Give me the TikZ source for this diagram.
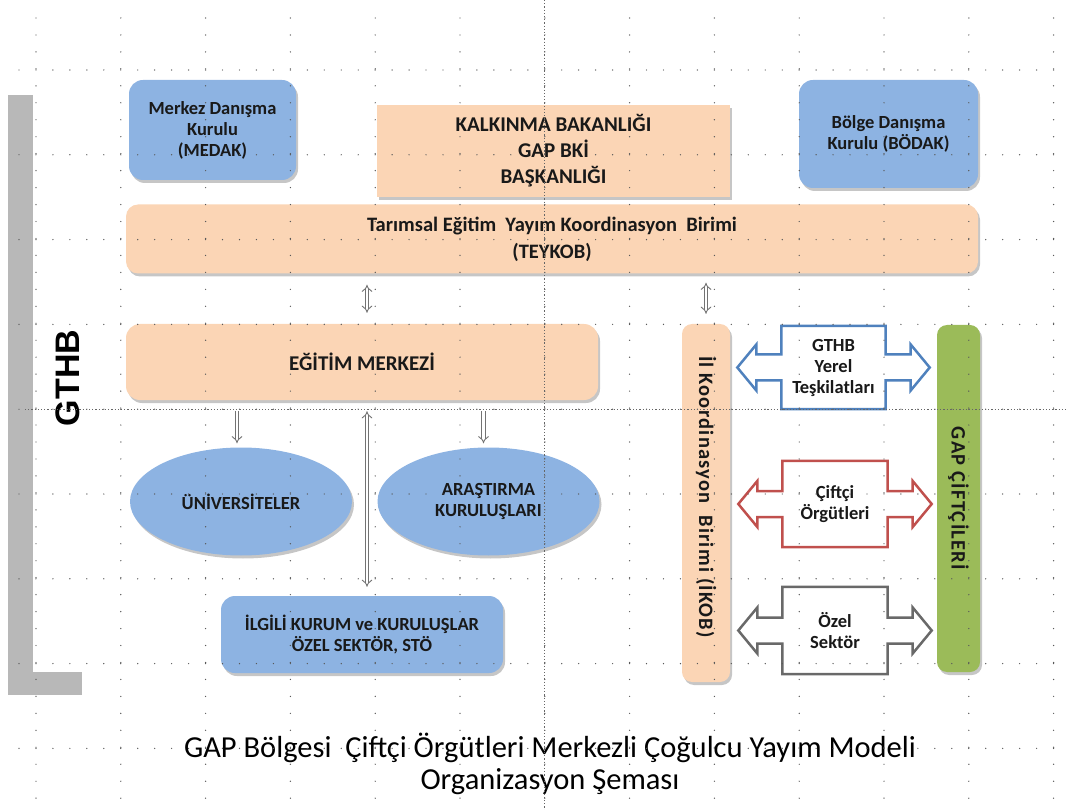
\documentclass[tikz,border=0pt]{standalone}
\usepackage{fontspec}
\setmainfont{Carlito}
\newfontfamily\headfont{Liberation Sans}
\usetikzlibrary{positioning,calc,shadows,backgrounds,arrows.meta,shapes.geometric}

\definecolor{boxblue}{RGB}{141,179,226}
\definecolor{boxpeach}{RGB}{251,213,181}
\definecolor{boxgreen}{RGB}{155,187,89}
\definecolor{lineblue}{RGB}{79,129,189}
\definecolor{linered}{RGB}{192,80,77}
\definecolor{linegray}{RGB}{105,105,105}

\tikzset{
  boxtext/.style={font=\bfseries\fontsize{18.5}{21}\selectfont, align=center, text=black!90},
  sidetext/.style={font=\bfseries\fontsize{20.5}{21}\selectfont\addfontfeature{LetterSpace=6}, text=black!90},
  orgbox/.style={boxtext, fill=#1, inner sep=0pt, rounded corners=14pt,
    drop shadow={shadow xshift=2pt, shadow yshift=-3pt, opacity=0.45}},
  orgoval/.style={orgbox=#1, shape=ellipse},
  dualline/.style={draw=black!55, line width=0.9pt, double=white, double distance=2.8pt},
  griddot/.style={fill=black!65}
}

% two-headed block arrow round a text box
\newcommand{\dualarrow}[2]{%
  \begin{scope}[on background layer]
  \draw[#2, line width=2.5pt, fill=white, line join=miter]
    (#1.north west) -- (#1.north east)
    -- ($(#1.east)+(0,-13)$) -- ++(25,0) -- ++(0,-10) -- ($(#1.east)+(44,0)$)
    -- ($(#1.east)+(25,23)$) -- ++(0,-10) -- ($(#1.east)+(0,13)$)
    -- (#1.south east) -- (#1.south west)
    -- ($(#1.west)+(0,13)$) -- ++(-25,0) -- ++(0,10) -- ($(#1.west)+(-44,0)$)
    -- ($(#1.west)+(-25,-23)$) -- ++(0,10) -- ($(#1.west)+(0,-13)$) -- cycle;
  \end{scope}}

\begin{document}
\begin{tikzpicture}[x=1pt,y=-1pt]
\useasboundingbox (0,0) rectangle (1066,810);

% grey frame shadow on the left
\fill[black!28] (8,95) rectangle (33,695);
\fill[black!28] (8,672) rectangle (82,695);

% top level
\node[orgbox=boxblue, minimum width=167pt, minimum height=100pt] (medak) at (212.5,130) {Merkez Danışma\\Kurulu\\(MEDAK)};
\node[orgbox=boxpeach, rounded corners=0pt, minimum width=353pt, minimum height=92pt,
      font=\bfseries\fontsize{21}{26}\selectfont] (gapbki) at (553.5,151) {KALKINMA BAKANLIĞI\\GAP BKİ\\BAŞKANLIĞI};
\node[orgbox=boxblue, minimum width=179pt, minimum height=108pt] (bodak) at (888.5,134) {Bölge Danışma\\Kurulu (BÖDAK)};
\node[orgbox=boxpeach, rounded corners=12pt, minimum width=852pt, minimum height=69pt,
      font=\bfseries\fontsize{20.5}{27}\selectfont] (teykob) at (552,239) {Tarımsal Eğitim~ Yayım Koordinasyon~ Birimi\\(TEYKOB)};

% second level
\node[orgbox=boxpeach, minimum width=472pt, minimum height=76pt,
      font=\bfseries\fontsize{21}{22}\selectfont] (egitim) at (362,362) {EĞİTİM MERKEZİ};
\node[orgbox=boxpeach, rounded corners=10pt, minimum width=48pt, minimum height=358pt] (ikob) at (706,503) {};
\node[sidetext, rotate=-90] at ([yshift=6pt]ikob.center) {İl Koordinasyon~ Birimi (İKOB)};
\node[orgbox=boxgreen, rounded corners=10pt, minimum width=43pt, minimum height=347pt] (ciftci) at (958.5,498.5) {};
\node[sidetext, rotate=-90] at (ciftci) {GAP ÇİFTÇİLERİ};

\node[font=\headfont\bfseries\fontsize{34}{34}\selectfont, rotate=90] (gthb) at (68,378) {GTHB};

% research and partners
\node[orgoval=boxblue, minimum width=222pt, minimum height=108pt] (univ) at (241,501.5) {ÜNİVERSİTELER};
\node[orgoval=boxblue, minimum width=222pt, minimum height=108pt] (research) at (488.5,501.5) {ARAŞTIRMA\\KURULUŞLARI};
\node[orgbox=boxblue, minimum width=282pt, minimum height=77pt] (ilgili) at (362,634.5) {İLGİLİ KURUM ve KURULUŞLAR\\ÖZEL SEKTÖR, STÖ};

% links between İKOB and the farmers
\node[boxtext, minimum width=104pt, minimum height=83pt, inner sep=0pt] (yerel) at (833.5,367.5) {GTHB\\Yerel\\Teşkilatları};
\node[boxtext, minimum width=105pt, minimum height=86pt, inner sep=0pt] (orgut) at (835,504) {Çiftçi\\Örgütleri};
\node[boxtext, minimum width=105pt, minimum height=87pt, inner sep=0pt] (ozel) at (835,630.5) {Özel\\Sektör};
\dualarrow{yerel}{lineblue}
\dualarrow{orgut}{linered}
\dualarrow{ozel}{linegray}

% connectors
\coordinate (uniTop) at ([xshift=-4pt]univ.north);
\coordinate (resTop) at ([xshift=-5pt]research.north);
\draw[dualline, {Implies}-{Implies}, shorten <=11pt, shorten >=11pt]
  ([xshift=5pt]teykob.south -| egitim.north) -- ([xshift=5pt]egitim.north);
\draw[dualline, {Implies}-{Implies}, shorten <=9pt, shorten >=10pt]
  (teykob.south -| ikob.north) -- (ikob.north);
\draw[dualline, -{Implies}, shorten <=11pt, shorten >=4pt]
  (uniTop |- egitim.south) -- (uniTop);
\draw[dualline, -{Implies}, shorten <=11pt, shorten >=4pt]
  (resTop |- egitim.south) -- (resTop);
\draw[dualline, {Implies}-{Implies}, shorten <=11pt, shorten >=9pt]
  ([xshift=5pt]egitim.south) -- ([xshift=5pt]egitim.south |- ilgili.north);

% caption
\node[font=\fontsize{30.5}{32}\selectfont, align=center] (caption) at (550,764) {GAP Bölgesi~ Çiftçi Örgütleri Merkezli Çoğulcu Yayım Modeli\\Organizasyon Şeması};

% slide grid
\foreach \i in {0,...,12}
  \foreach \k in {0,...,46}
    \fill[griddot] (36+84.8*\i, 18+16.96*\k) circle (0.7pt);
\foreach \j in {0,...,8}
  \foreach \k in {0,...,61}
    \fill[griddot] (19+16.96*\k, 70+84.8*\j) circle (0.7pt);
\draw[black!60, line width=0.9pt, dash pattern=on 1.2pt off 2pt] (544.8,0) -- (544.8,810);
\draw[black!60, line width=0.9pt, dash pattern=on 1.2pt off 2pt] (25,409.6) -- (1066,409.6);
\end{tikzpicture}
\end{document}
